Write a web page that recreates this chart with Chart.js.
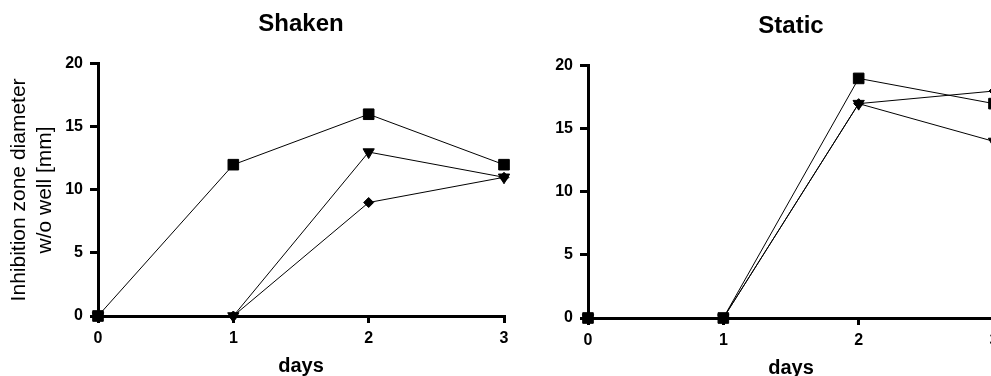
<!DOCTYPE html>
<html>
<head>
<meta charset="utf-8">
<script src="https://cdn.jsdelivr.net/npm/chart.js@4"></script>
<style>
  html, body { margin: 0; padding: 0; background: #fff; overflow: hidden; }
  body { width: 991px; height: 376px; position: relative; }
  canvas { position: absolute; }
  #shaken { left: 0; top: 0; }
  #static { left: 490px; top: 2px; }
</style>
</head>
<body>
<canvas id="shaken" width="520" height="376"></canvas>
<canvas id="static" width="530" height="376"></canvas>
<script>
// dagar på x-axeln
const days = ['0', '1', '2', '3'];
const yTicks = [0, 5, 10, 15, 20];

// Shaken
const shakenSquare = [0, 12, 16, 12];
const shakenTriangle = [0, 0, 13, 11];
const shakenDiamond = [0, 0, 9, 11];

// Static
const staticSquare = [0, 0, 19, 17];
const staticTriangle = [0, 0, 17, 14];
const staticDiamond = [0, 0, 17, 18];

const FONT = "'Liberation Sans', Arial, sans-serif";

/**
* Skapar ett dataset med given punktform
*/
function series(values, style) {
    const base = {
        data: values,
        borderColor: '#000',
        borderWidth: 1,
        backgroundColor: '#000',
        pointBackgroundColor: '#000',
        pointBorderColor: '#000',
        pointBorderWidth: 1,
        tension: 0,
        clip: false
    };
    if (style === 'square') {
        return Object.assign(base, { pointStyle: 'rect', pointRadius: 7.5 });
    }
    if (style === 'triangle') {
        return Object.assign(base, { pointStyle: 'triangle', pointRotation: 180, pointRadius: 6.5 });
    }
    return Object.assign(base, { pointStyle: 'rectRot', pointRadius: 5 });
}

/**
* Skapar ett linjediagram för en panel
*/
function createChart(id, title, sets, showYTitle, padRight) {
    const ctx = document.getElementById(id).getContext('2d');

    new Chart(ctx, {
        type: 'line',
        data: {
            labels: days,
            datasets: sets
        },
        options: {
            responsive: false,
            animation: false,
            devicePixelRatio: 1,
            layout: { padding: { left: 0, right: padRight, top: 0, bottom: 0 } },
            plugins: {
                legend: { display: false },
                tooltip: { enabled: false },
                title: {
                    display: true,
                    fullSize: false,
                    text: title,
                    color: '#000',
                    font: { family: FONT, size: 24, weight: 'bold', lineHeight: 1.2 },
                    padding: { top: 10, bottom: 25 }
                }
            },
            scales: {
                x: {
                    type: 'category',
                    offset: false,
                    grid: { display: true, drawOnChartArea: false, drawTicks: true, tickLength: 7, color: '#000', lineWidth: 3 },
                    border: { display: true, color: '#000', width: 3 },
                    ticks: { color: '#000', padding: 6, font: { family: FONT, size: 16, weight: 'bold' } },
                    title: {
                        display: true,
                        text: 'days',
                        color: '#000',
                        font: { family: FONT, size: 20, weight: 'bold', lineHeight: 1 },
                        padding: { top: 0, bottom: 0 }
                    },
                    afterFit: function (scale) { scale.height = 60; }
                },
                y: {
                    min: 0,
                    max: 20,
                    grid: { display: true, drawOnChartArea: false, drawTicks: true, tickLength: 8, color: '#000', lineWidth: 3 },
                    border: { display: true, color: '#000', width: 3 },
                    ticks: {
                        stepSize: 5,
                        color: '#000',
                        padding: 7,
                        font: { family: FONT, size: 16, weight: 'bold' }
                    },
                    afterBuildTicks: function (scale) {
                        scale.ticks = yTicks.map(v => ({ value: v }));
                    },
                    title: {
                        display: showYTitle,
                        text: ['Inhibition zone diameter', 'w/o well [mm]'],
                        color: '#000',
                        font: { family: FONT, size: 21, weight: 'normal', lineHeight: 1.24 },
                        padding: { top: 6, bottom: 0 }
                    },
                    afterFit: function (scale) { scale.width = 98; }
                }
            }
        }
    });
}

createChart('shaken', 'Shaken', [
    series(shakenTriangle, 'triangle'),
    series(shakenSquare, 'square'),
    series(shakenDiamond, 'diamond')
], true, 16);

createChart('static', 'Static', [
    series(staticTriangle, 'triangle'),
    series(staticSquare, 'square'),
    series(staticDiamond, 'diamond')
], false, 26);
</script>
</body>
</html>
